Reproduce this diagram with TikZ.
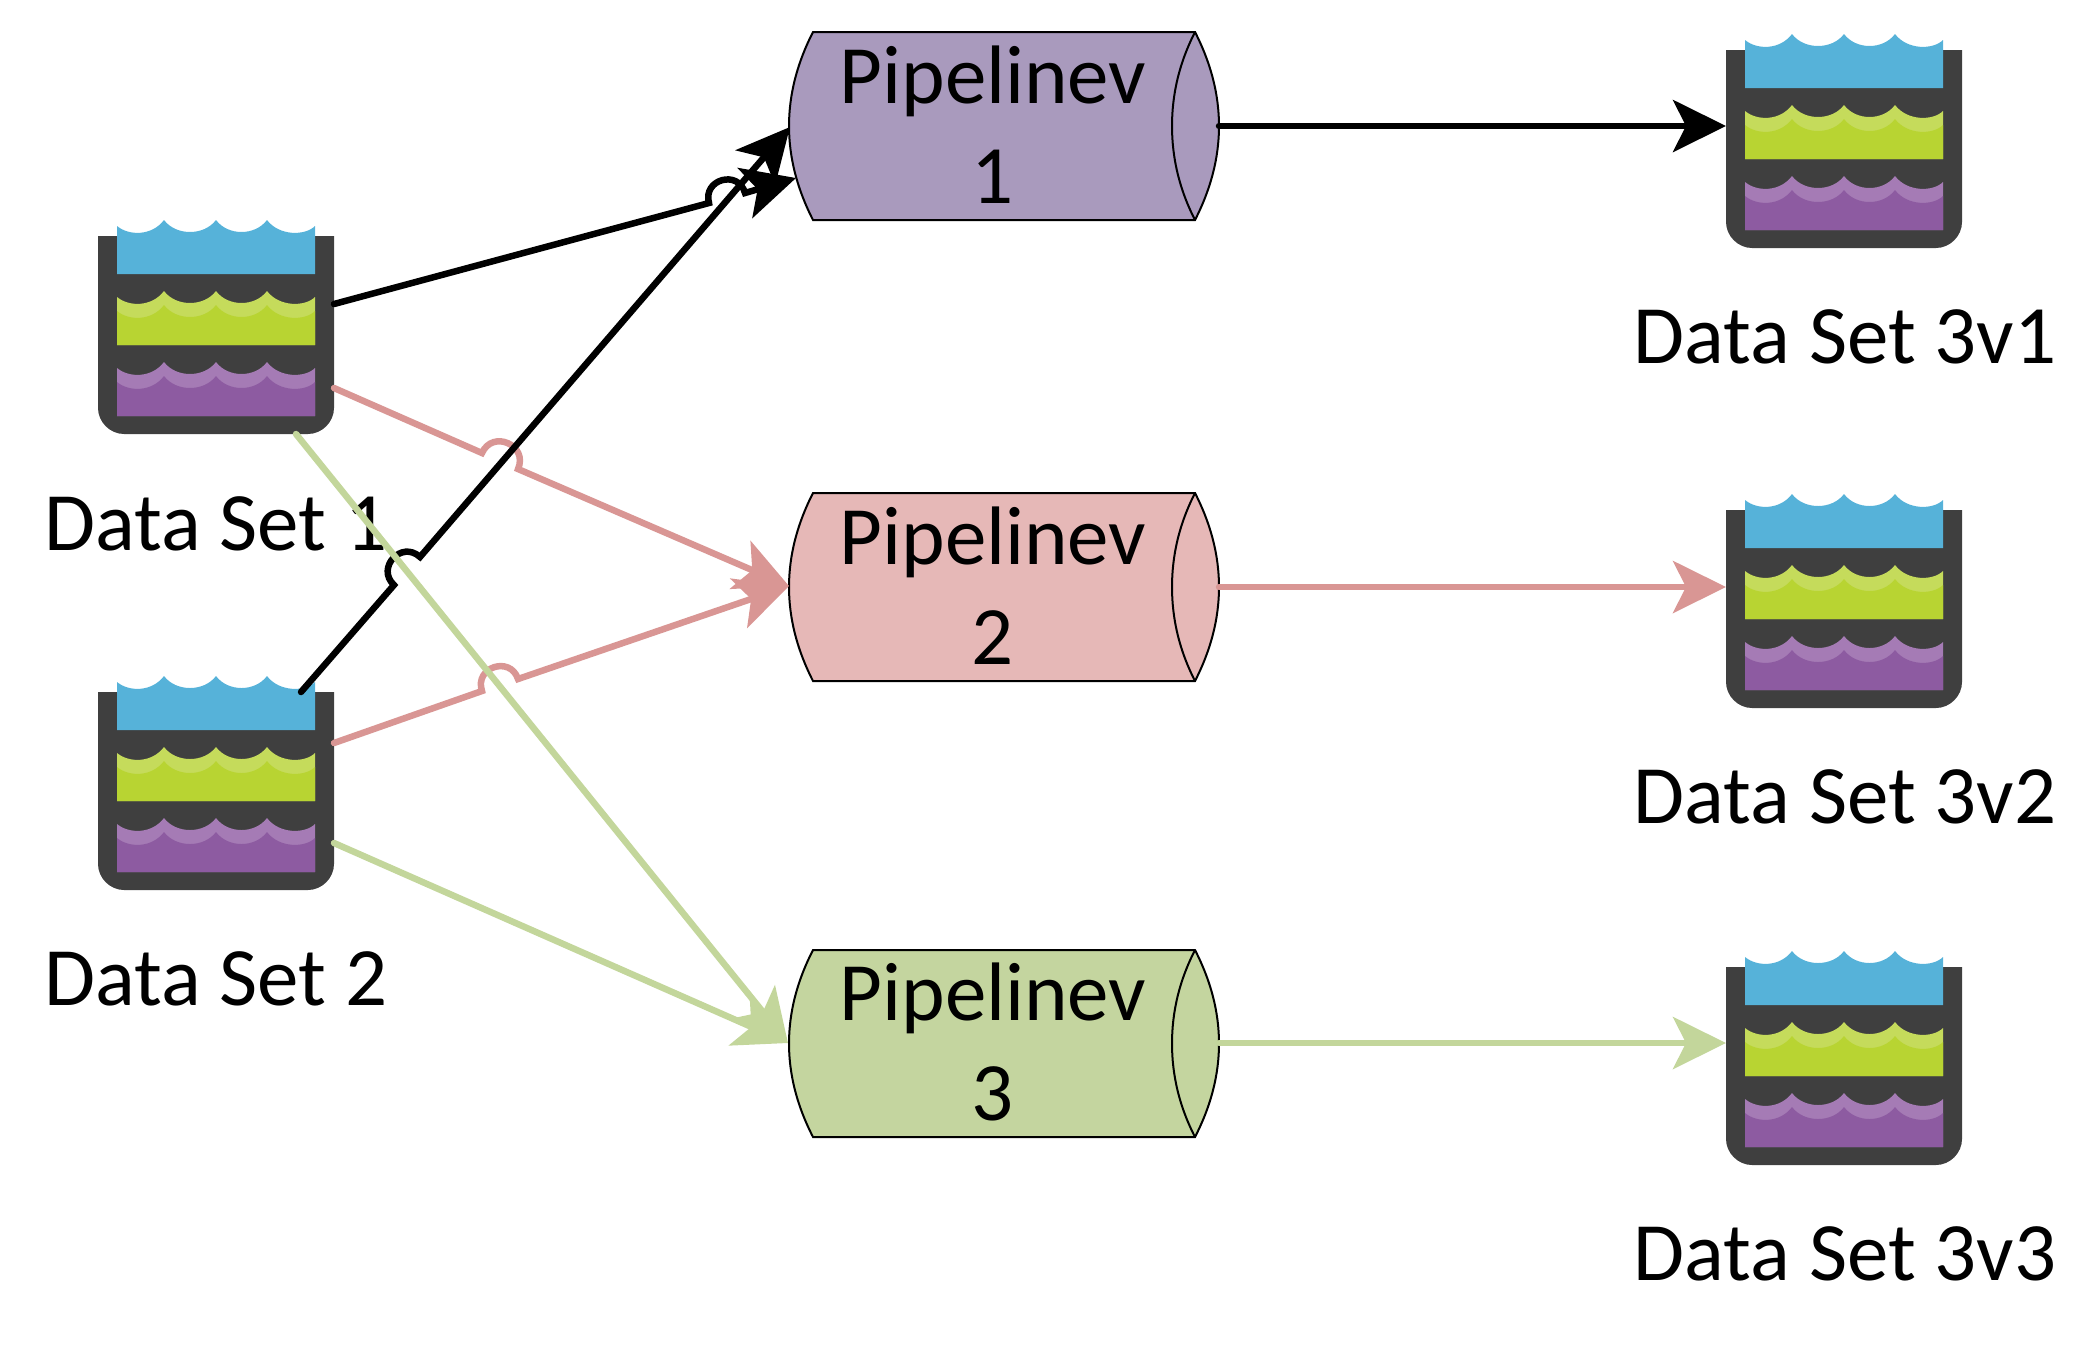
\documentclass[tikz,border=0pt]{standalone}
\usepackage{fontspec}
\setmainfont{Carlito}
\usetikzlibrary{arrows.meta,calc}
\definecolor{bkdark}{HTML}{3F3F3F}
\definecolor{bkblue}{HTML}{56B2D9}
\definecolor{bkgreen}{HTML}{B8D432}
\definecolor{bkgreenl}{HTML}{C5DB5B}
\definecolor{bkpurple}{HTML}{8D5BA1}
\definecolor{bkpurplel}{HTML}{A57BB5}
\definecolor{pipeA}{HTML}{A99ABD}
\definecolor{pipeB}{HTML}{E6B8B7}
\definecolor{pipeC}{HTML}{C4D59F}
\definecolor{linkB}{HTML}{D99694}
\definecolor{linkC}{HTML}{C3D69B}
\newcommand{\wavebody}{(19,38) -- (19,-10)
  .. controls (31,0) and (54,0) .. (66,-16)
  .. controls (78,0) and (106,0) .. (118,-16)
  .. controls (130,0) and (157,0) .. (169,-16)
  .. controls (181,0) and (207,0) .. (217,-10)
  -- (217,38) -- cycle}
\newcommand{\layer}[3]{%
  \begin{scope}[yshift=-#1pt]
    \fill[#2] \wavebody;
    \begin{scope}
      \clip (19,-40) rectangle (217,38);
      \begin{scope}[yshift=-14pt]
        \fill[#3] (19,24) -- (19,-10)
          .. controls (31,0) and (54,0) .. (66,-16)
          .. controls (78,0) and (106,0) .. (118,-16)
          .. controls (130,0) and (157,0) .. (169,-16)
          .. controls (181,0) and (207,0) .. (217,-10)
          -- (217,24) -- cycle;
      \end{scope}
    \end{scope}
  \end{scope}}
\newcommand{\jumpto}[2]{.. controls ($(#1)!0.66!90:(#2)$) and ($(#2)!0.66!-90:(#1)$) .. (#2)}
\newcommand{\cyl}[4]{% name, y top, y bottom, colour
  \draw[pipeline,fill=#4] (813,#2) -- (1195,#2)
     .. controls (1211,{#2+(#3-#2)/6}) and (1219,{#2+(#3-#2)/3}) .. (1219,{(#2+#3)/2})
     .. controls (1219,{#2+2*(#3-#2)/3}) and (1211,{#2+5*(#3-#2)/6}) .. (1195,#3)
     -- (813,#3)
     .. controls (797,{#2+5*(#3-#2)/6}) and (789,{#2+2*(#3-#2)/3}) .. (789,{(#2+#3)/2})
     .. controls (789,{#2+(#3-#2)/3}) and (797,{#2+(#3-#2)/6}) .. (813,#2) -- cycle;
  \draw[pipeline] (1195,#2)
     .. controls (1179,{#2+(#3-#2)/6}) and (1172,{#2+(#3-#2)/3}) .. (1172,{(#2+#3)/2})
     .. controls (1172,{#2+2*(#3-#2)/3}) and (1179,{#2+5*(#3-#2)/6}) .. (1195,#3);}
\tikzset{
  x=1pt,y=-1pt,
  pipeline/.style={draw=black,line width=2pt,line join=miter},
  lbl/.style={font=\fontsize{83}{100}\selectfont,inner sep=0pt,anchor=base,text=black},
  ptext/.style={font=\fontsize{83}{100}\selectfont,inner sep=0pt,align=center,text=black},
  link/.style={line width=6.5pt,line cap=round,line join=miter,-{Stealth[length=53pt,width=52pt,inset=13pt]}},
  bucket/.pic={
    \fill[bkdark] (0,0) -- (0,172) .. controls (0,186) and (12,198) .. (26,198) -- (210,198)
       .. controls (224,198) and (236,186) .. (236,172) -- (236,0) -- cycle;
    \fill[bkblue] \wavebody;
    \layer{71}{bkgreenl}{bkgreen}
    \layer{142}{bkpurplel}{bkpurple}
  }
}
\begin{document}
\begin{tikzpicture}
\useasboundingbox (0,0) rectangle (2100,1345);
\pic at (98,236) {bucket};
\pic at (98,692) {bucket};
\pic at (1726,50) {bucket};
\pic at (1726,510) {bucket};
\pic at (1726,967) {bucket};
\cyl{p1}{32}{220}{pipeA}
\cyl{p2}{493}{681}{pipeB}
\cyl{p3}{950}{1137}{pipeC}
\node[ptext] (p1) at (993,125) {Pipelinev\\1};
\node[ptext] (p2) at (993,586) {Pipelinev\\2};
\node[ptext] (p3) at (993,1042) {Pipelinev\\3};
\node[lbl] (d1) at (216,550) {Data Set 1};
\node[lbl] (d2) at (216,1005) {Data Set 2};
\node[lbl] (r1) at (1845,363) {Data Set 3v1};
\node[lbl] (r2) at (1845,823) {Data Set 3v2};
\node[lbl] (r3) at (1845,1280) {Data Set 3v3};
% connector ends
\coordinate (a1) at (334,304);
\coordinate (a2) at (334,388);
\coordinate (a3) at (296,434);
\coordinate (b1) at (301,692);
\coordinate (b2) at (334,743);
\coordinate (b3) at (334,843);
\coordinate (t1a) at (796,178);
\coordinate (t1b) at (790,127);
\coordinate (t2) at (789,586);
\coordinate (t3) at (788,1043);
\coordinate (ja1) at (709,203);
\coordinate (ja2) at (745,193);
\coordinate (jb1) at (394,585);
\coordinate (jb2) at (420,557);
\coordinate (jc1) at (482,453);
\coordinate (jc2) at (518,469);
\coordinate (jd1) at (482,691);
\coordinate (jd2) at (518,679);
% connectors
\draw[link,linkB] (a2) -- (jc1) \jumpto{jc1}{jc2} -- (t2);
\draw[link,linkB] (b2) -- (jd1) \jumpto{jd1}{jd2} -- (t2);
\draw[link,black] (a1) -- (ja1) \jumpto{ja1}{ja2} -- (t1a);
\draw[link,black] (b1) -- (jb1) \jumpto{jb1}{jb2} -- (t1b);
\draw[link,linkC] (a3) -- (t3);
\draw[link,linkC] (b3) -- (t3);
\coordinate (o1) at (1219,126);
\coordinate (o2) at (1219,587);
\coordinate (o3) at (1219,1043);
\coordinate (e1) at (1726,126);
\coordinate (e2) at (1726,587);
\coordinate (e3) at (1726,1043);
\draw[link,black] (o1) -- (e1);
\draw[link,linkB] (o2) -- (e2);
\draw[link,linkC] (o3) -- (e3);
\end{tikzpicture}
\end{document}
